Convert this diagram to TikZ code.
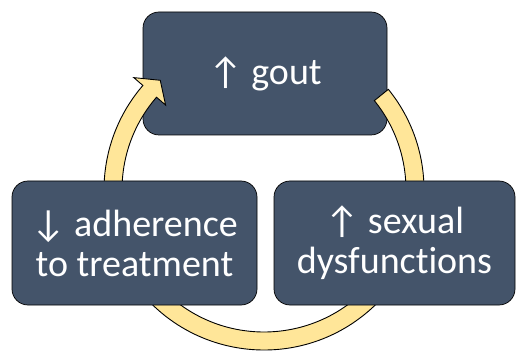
\documentclass[tikz,border=0pt]{standalone}
\usepackage{fontspec}
\setmainfont{Carlito}[Ligatures={NoCommon,NoContextual}]
\usetikzlibrary{calc}
\definecolor{boxfill}{HTML}{44546A}
\definecolor{ringfill}{HTML}{FFE699}
\tikzset{
  cyclebox/.style={draw=black, line width=0.7pt, fill=boxfill, rounded corners=16pt,
    text=white, align=center, inner sep=0pt,
    font=\fontsize{38}{40}\selectfont},
  ring/.style={draw=black, line width=0.9pt, fill=ringfill, line join=miter}
}
\begin{document}
\begin{tikzpicture}
\useasboundingbox (0,0) rectangle (516pt,-352pt);
\node[cyclebox, minimum width=244pt, minimum height=123pt] (gout) at (265pt,-73.5pt) {↑ gout};
\coordinate (c) at (264pt,-190pt);
\draw[ring] ($(c)+(39:160pt)$) arc[start angle=39, end angle=-220.8, radius=160pt]
  -- ($(c)+(139.2:172pt)$) -- ($(c)+(133.4:151pt)$) -- ($(c)+(139.2:130pt)$)
  -- ($(c)+(139.2:142pt)$) arc[start angle=139.2, end angle=399, radius=142pt] -- cycle;
\node[cyclebox, minimum width=245pt, minimum height=124pt] (adh) at (134.5pt,-243pt) {↓ adherence\\to treatment};
\node[cyclebox, minimum width=241pt, minimum height=124pt] (sex) at (394.5pt,-243pt) {↑ sexual\\dysfunctions};
\end{tikzpicture}
\end{document}
